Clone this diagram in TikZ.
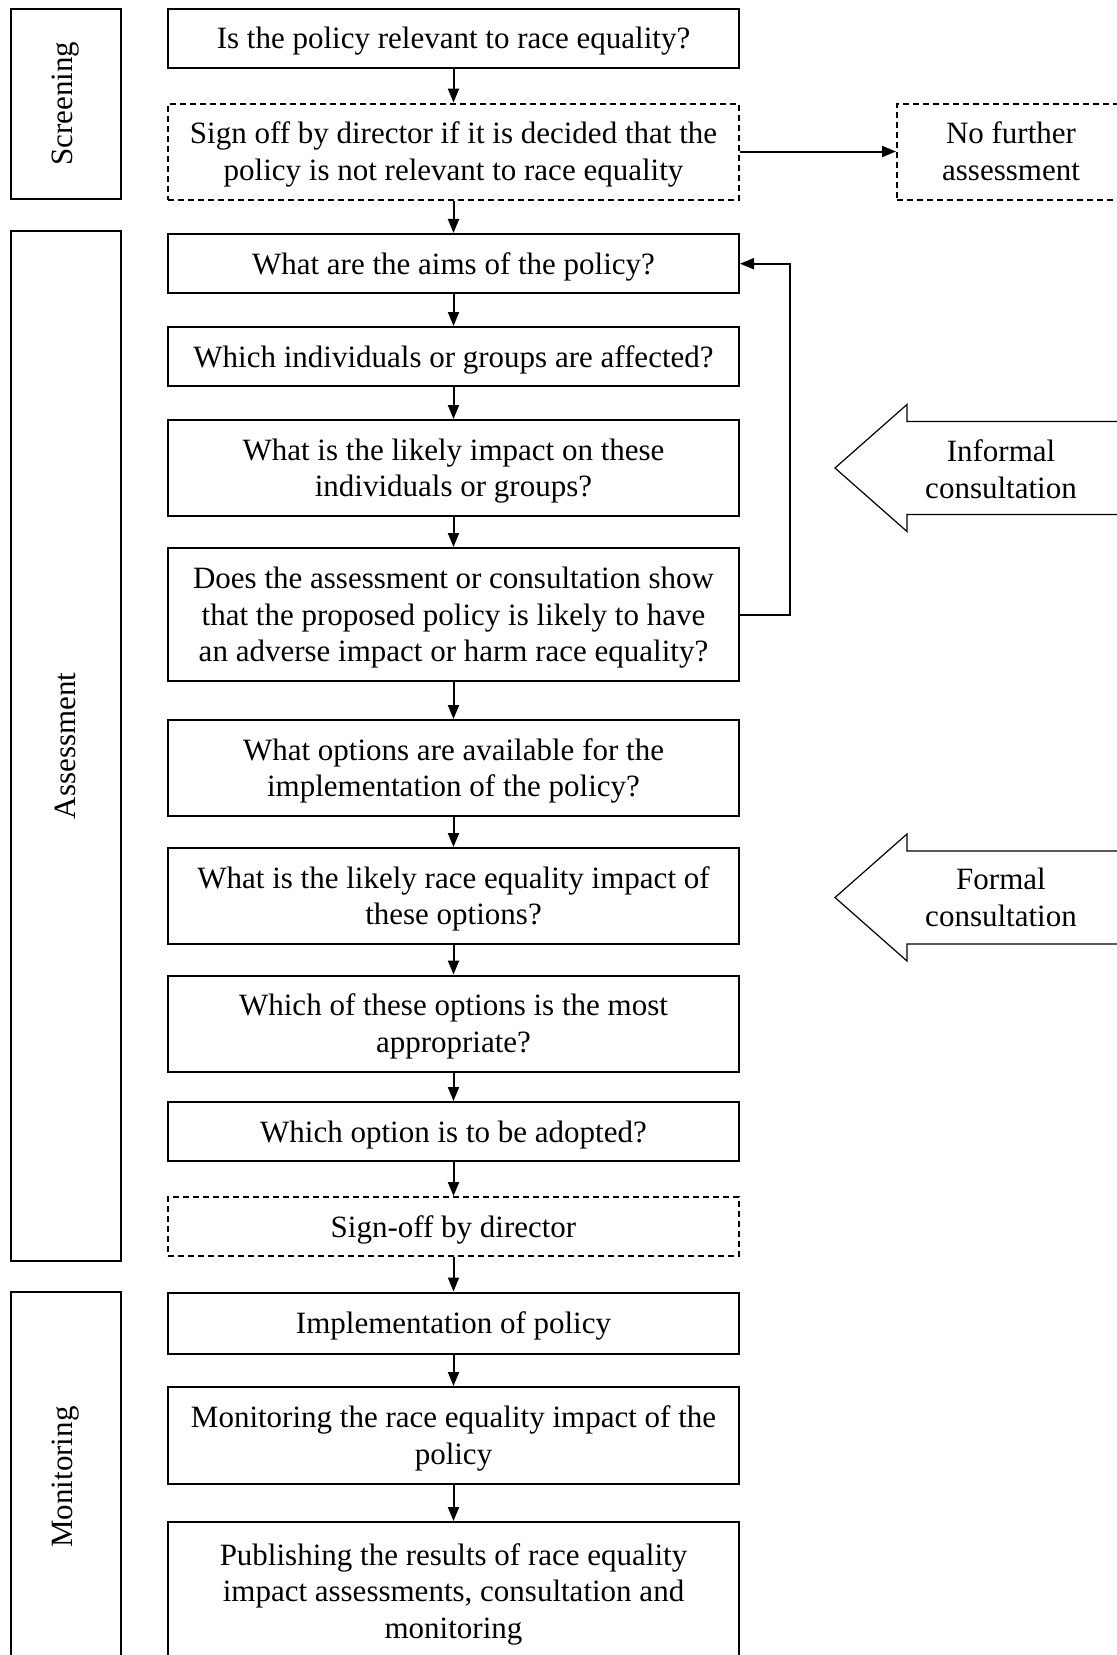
\documentclass[tikz,border=0pt]{standalone}
\usepackage{fontspec}
\setmainfont{Liberation Serif}
\usetikzlibrary{arrows.meta}

\begin{document}
\begin{tikzpicture}[x=0.5pt, y=-0.5pt, line width=1pt, font=\fontsize{15.5}{18.3}\selectfont]
    % 1. Styles
    \tikzstyle{Step} = [draw, rectangle, inner sep=0pt, align=center, minimum width=285.5pt]
    \tikzstyle{SignOff} = [Step, dash pattern=on 3pt off 2pt]
    \tikzstyle{OneLine} = [text height=14pt]
    \tikzstyle{TwoLine} = [text height=32pt]
    \tikzstyle{ThreeLine} = [text height=50.8pt]
    \tikzstyle{Stage} = [draw, rectangle, rotate=90, inner sep=0pt, minimum height=55pt]
    \tikzstyle{Flow} = [-{Triangle[length=7pt, width=5.5pt]}]

    \fill[white] (0,0) rectangle (1117,1655);
    \clip (0,0) rectangle (1117,1655);

    % 2. Stage boxes on the left
    \node[Stage, minimum width=95pt]  (screening)  at (65.5, 103.5) {Screening};
    \node[Stage, minimum width=515pt] (assessment) at (65.5, 746)   {Assessment};
    \node[Stage, minimum width=185pt] (monitoring) at (65.5, 1477)  {Monitoring};

    % 3. Main column
    \node[Step, OneLine, minimum height=29.5pt] (relevant) at (453.5, 38)     {Is the policy relevant to race equality?};
    \node[SignOff, TwoLine, minimum height=48pt] (signoff)  at (453.5, 151.5) {Sign off by director if it is decided that the\\policy is not relevant to race equality};
    \node[Step, OneLine, minimum height=29.75pt] (aims)    at (453.5, 263.7)  {What are the aims of the policy?};
    \node[Step, OneLine, minimum height=29.5pt] (groups)   at (453.5, 356.5)  {Which individuals or groups are affected?};
    \node[Step, TwoLine, minimum height=48pt] (impact)     at (453.5, 468)    {What is the likely impact on these\\individuals or groups?};
    \node[Step, ThreeLine, minimum height=66.5pt] (adverse)  at (453.5, 614.5)  {Does the assessment or consultation show\\that the proposed policy is likely to have\\an adverse impact or harm race equality?};
    \node[Step, TwoLine, minimum height=48pt] (options)    at (453.5, 768)    {What options are available for the\\implementation of the policy?};
    \node[Step, TwoLine, minimum height=48pt] (optimpact)  at (453.5, 896)    {What is the likely race equality impact of\\these options?};
    \node[Step, TwoLine, minimum height=48pt] (best)       at (453.5, 1023.5) {Which of these options is the most\\appropriate?};
    \node[Step, OneLine, minimum height=29.5pt] (adopt)    at (453.5, 1131.5) {Which option is to be adopted?};
    \node[SignOff, OneLine, minimum height=29.5pt] (signoffB) at (453.5, 1226.5) {Sign-off by director};
    \node[Step, OneLine, minimum height=30.5pt] (implement) at (453.5, 1323)  {Implementation of policy};
    \node[Step, TwoLine, minimum height=48.5pt] (monitor)  at (453.5, 1435.5) {Monitoring the race equality impact of the\\policy};
    \node[Step, ThreeLine, minimum height=69pt] (publish)    at (453.5, 1591)   {Publishing the results of race equality\\impact assessments, consultation and\\monitoring};

    % 4. Side box
    \node[SignOff, minimum width=114pt, minimum height=48pt] (nofurther) at (1011, 151.5) {No further\\assessment};

    % 5. Arrows down the column
    \draw[Flow] (relevant) -- (signoff);
    \draw[Flow] (signoff) -- (aims);
    \draw[Flow] (aims) -- (groups);
    \draw[Flow] (groups) -- (impact);
    \draw[Flow] (impact) -- (adverse);
    \draw[Flow] (adverse) -- (options);
    \draw[Flow] (options) -- (optimpact);
    \draw[Flow] (optimpact) -- (best);
    \draw[Flow] (best) -- (adopt);
    \draw[Flow] (adopt) -- (signoffB);
    \draw[Flow] (signoffB) -- (implement);
    \draw[Flow] (implement) -- (monitor);
    \draw[Flow] (monitor) -- (publish);

    \draw[Flow] (signoff) -- (nofurther);        % Not relevant
    \draw[Flow] (adverse.east) -- ++(50,0) |- (aims.east);  % Back to the aims

    % 6. Consultation block arrows
    \draw[line width=0.6pt] (1130,421.5) -- (907,421.5) -- (907,404.5) -- (835,468)
        -- (907,531.5) -- (907,514.5) -- (1130,514.5);
    \node[align=center] (informal) at (1001, 469) {Informal\\consultation};

    \draw[line width=0.6pt] (1130,851) -- (907,851) -- (907,834) -- (835,897.5)
        -- (907,961) -- (907,944) -- (1130,944);
    \node[align=center] (formal) at (1001, 897.5) {Formal\\consultation};

\end{tikzpicture}
\end{document}
